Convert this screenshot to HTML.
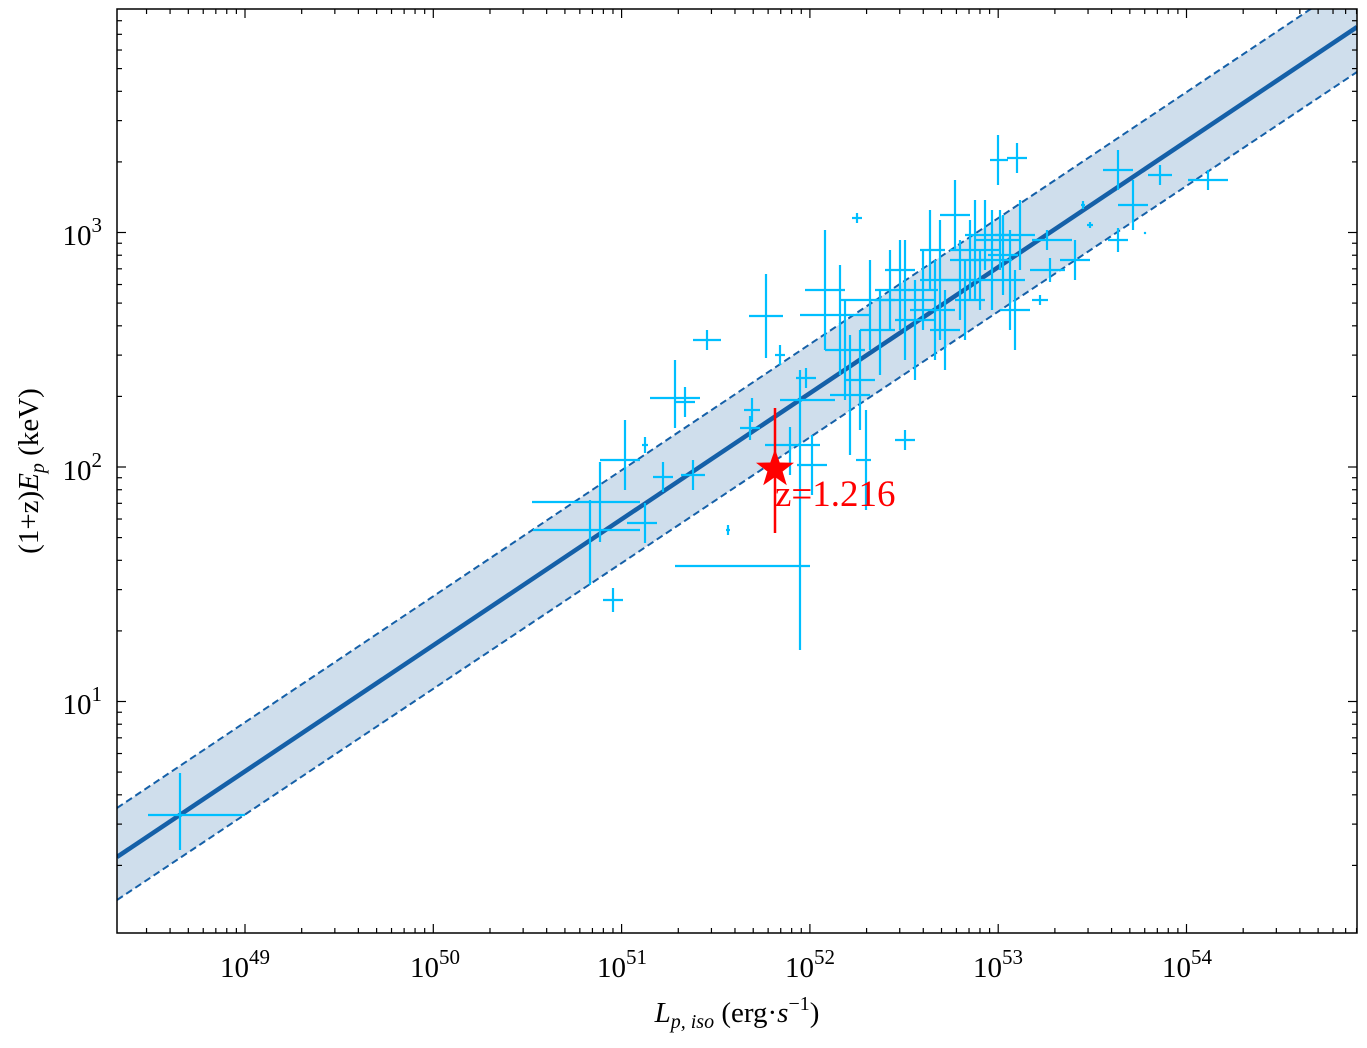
<!DOCTYPE html>
<html><head><meta charset="utf-8"><style>
body{margin:0;background:#fff}
svg text{font-family:"Liberation Serif",serif}
</style></head><body>
<svg id="s" width="1367" height="1043" xmlns="http://www.w3.org/2000/svg">
<defs><clipPath id="c"><rect x="117" y="9" width="1240" height="924"/></clipPath></defs>
<g clip-path="url(#c)">
<polygon points="117,808 1357,-22 1357,72 117,900" fill="#cfdeec"/>
<line x1="117" y1="808" x2="1357" y2="-22" stroke="#1560a8" stroke-width="2" stroke-dasharray="7,4"/>
<line x1="117" y1="900" x2="1357" y2="72" stroke="#1560a8" stroke-width="2" stroke-dasharray="7,4"/>
<line x1="117" y1="857" x2="1357" y2="27" stroke="#1560a8" stroke-width="4.5"/>
<g id="pts" stroke="#00bfff" stroke-width="2.2" fill="none"></g>
</g>
<g stroke="#ff0000" stroke-width="2.5"><line x1="775" y1="408" x2="775" y2="533"/></g>
<polygon id="star" fill="#ff0000"/>
<text x="775" y="506" font-size="37" fill="#ff0000">z=1.216</text>
<rect x="117" y="9" width="1240" height="924" fill="none" stroke="#000" stroke-width="1.5"/>
<g id="ticks" stroke="#000" stroke-width="1.2"></g>
<g font-size="29" fill="#000" text-anchor="middle">
<text x="245" y="977">10<tspan dy="-13" font-size="21">49</tspan></text>
<text x="435" y="977">10<tspan dy="-13" font-size="21">50</tspan></text>
<text x="622" y="977">10<tspan dy="-13" font-size="21">51</tspan></text>
<text x="810" y="977">10<tspan dy="-13" font-size="21">52</tspan></text>
<text x="998" y="977">10<tspan dy="-13" font-size="21">53</tspan></text>
<text x="1187" y="977">10<tspan dy="-13" font-size="21">54</tspan></text>
</g>
<g font-size="29" fill="#000" text-anchor="end">
<text x="102" y="245">10<tspan dy="-13" font-size="21">3</tspan></text>
<text x="102" y="480">10<tspan dy="-13" font-size="21">2</tspan></text>
<text x="102" y="714">10<tspan dy="-13" font-size="21">1</tspan></text>
</g>
<text x="737" y="1022" font-size="29" text-anchor="middle"><tspan font-style="italic">L</tspan><tspan font-size="20" dy="6" font-style="italic">p, iso</tspan><tspan dy="-6"> (erg·</tspan><tspan font-style="italic">s</tspan><tspan dy="-12" font-size="20">−1</tspan><tspan dy="12">)</tspan></text>
<text transform="translate(38,471) rotate(-90)" font-size="29" text-anchor="middle">(1+z)<tspan font-style="italic">E</tspan><tspan font-size="20" dy="6" font-style="italic">p</tspan><tspan dy="-6"> (keV)</tspan></text>
</svg>
<script>
var ns="http://www.w3.org/2000/svg",t=document.getElementById('ticks');
function L(a,b,c,d){var l=document.createElementNS(ns,'line');l.setAttribute('x1',a);l.setAttribute('y1',b);l.setAttribute('x2',c);l.setAttribute('y2',d);return l;}
function X(lg){return 245+(lg-49)*188.3}
function Y(lg){return 467-(lg-2)*234.5}
for(var d=48;d<=55;d++)for(var k=1;k<10;k++){var x=X(d+Math.log10(k));if(x<117||x>1357)continue;var n=k==1?9:5;t.appendChild(L(x,933,x,933-n));t.appendChild(L(x,9,x,9+n));}
for(var d=0;d<=4;d++)for(var k=1;k<10;k++){var y=Y(d+Math.log10(k));if(y<9||y>933)continue;var n=k==1?9:5;t.appendChild(L(117,y,117+n,y));t.appendChild(L(1357,y,1357-n,y));}
var P=[[180,815,32,65,42,35],[590,530,57,50,30,55],[600,502,68,40,40,40],[613,600,10,10,12,12],[625,460,25,15,40,30],[645,523,18,12,20,20],[663,477,10,10,15,15],[675,398,25,25,38,30],[685,402,10,10,15,15],[693,475,12,12,15,15],[707,340,14,14,10,10],[740,566,65,70,0,0],[800,540,0,0,110,110],[766,316,17,17,42,42],[752,410,8,8,12,12],[750,428,10,10,12,12],[780,355,5,5,10,10],[728,530,2,2,5,5],[645,445,3,3,8,8],[857,218,5,5,5,5],[806,378,10,10,10,10],[790,445,25,30,18,30],[812,465,15,15,30,30],[800,400,20,35,30,30],[825,290,20,20,60,60],[840,315,40,30,50,60],[845,350,20,20,50,50],[850,395,20,20,60,60],[860,380,15,15,50,50],[866,460,10,5,50,50],[870,300,30,25,40,50],[880,330,20,15,40,45],[890,290,15,20,40,40],[900,270,15,15,30,60],[905,440,10,10,10,10],[905,300,30,30,60,60],[915,320,20,20,40,60],[923,290,15,15,40,40],[930,250,10,15,40,40],[935,310,25,20,50,50],[940,280,20,20,60,60],[945,330,15,15,40,40],[955,215,15,15,35,35],[960,280,20,20,40,40],[970,260,20,20,40,40],[965,300,10,20,40,40],[975,250,25,25,50,50],[980,280,15,15,30,30],[985,235,20,25,35,35],[992,260,20,20,50,50],[998,160,8,10,25,25],[1000,240,25,20,30,30],[1003,255,15,15,40,40],[1010,280,15,15,50,50],[1015,310,15,15,40,40],[1017,158,10,10,15,15],[1020,235,25,15,35,35],[1040,300,8,8,5,5],[1047,240,15,25,10,10],[1050,270,20,15,12,12],[1075,260,15,15,20,20],[1083,205,2,2,4,4],[1118,170,15,15,20,20],[1118,240,10,10,12,12],[1133,205,15,15,25,25],[1160,175,12,12,10,10],[1208,180,20,20,10,10],[1090,225,3,3,3,3],[1145,233,1,1,1,1]];
var g=document.getElementById('pts');
P.forEach(function(p){g.appendChild(L(p[0]-p[2],p[1],p[0]+p[3],p[1]));g.appendChild(L(p[0],p[1]-p[4],p[0],p[1]+p[5]));});
var s=[],cx=775,cy=469;for(var i=0;i<10;i++){var r=i%2?8:20,a=-Math.PI/2+i*Math.PI/5;s.push((cx+r*Math.cos(a)).toFixed(1)+','+(cy+r*Math.sin(a)).toFixed(1));}
document.getElementById('star').setAttribute('points',s.join(' '));
</script>
</body></html>
